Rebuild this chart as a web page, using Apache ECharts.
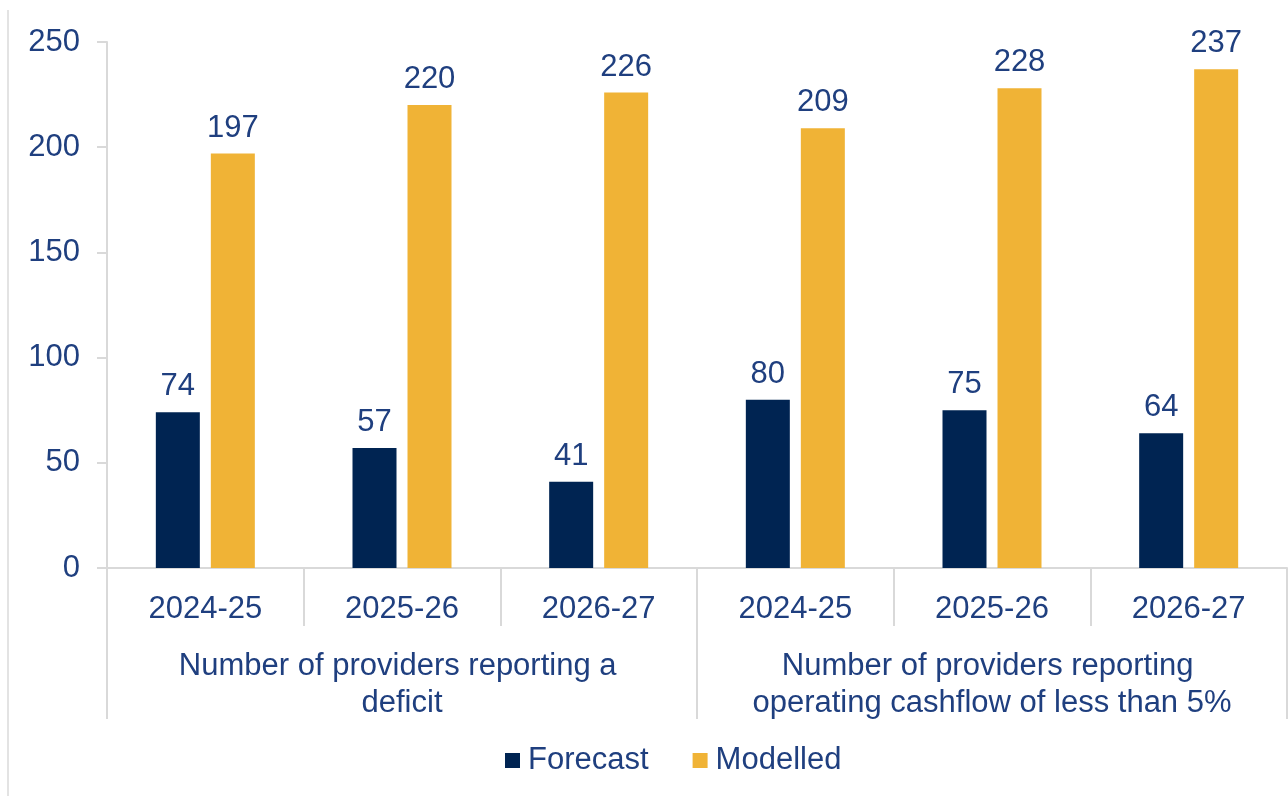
<!DOCTYPE html>
<html>
<head>
<meta charset="utf-8">
<script src="https://cdn.jsdelivr.net/npm/echarts@6/dist/echarts.min.js"></script>
<style>
html,body{margin:0;padding:0;background:#fff;}
#chart{width:1288px;height:796px;}
</style>
</head>
<body>
<div id="chart"></div>
<script>
var years = ['2024-25','2025-26','2026-27','2024-25','2025-26','2026-27'];
var groups = ['Number of providers reporting a deficit','Number of providers reporting operating cashflow of less than 5%'];
var forecast = [74, 57, 41, 80, 75, 64];
var modelled = [197, 220, 226, 209, 228, 237];
var yTicks = {min: 0, max: 250, interval: 50};

var textColor = '#1F3F7F';
var gridColor = '#D9D9D9';
var font = 'Liberation Sans, Arial, sans-serif';
var fs = 31;

var chart = echarts.init(document.getElementById('chart'));
chart.setOption({
  animation: false,
  textStyle: {fontFamily: font},
  grid: {left: 107, right: 1, top: 42, bottom: 228, containLabel: false},
  legend: {
    data: ['Forecast','Modelled'],
    bottom: 15, left: 500,
    icon: 'rect', itemWidth: 15, itemHeight: 15, itemGap: 44,
    textStyle: {color: textColor, fontSize: fs, fontFamily: font, padding: [0,0,0,3]}
  },
  xAxis: [
    {
      type: 'category', data: years, position: 'bottom', offset: 0,
      axisLine: {show: true, lineStyle: {color: gridColor, width: 2}},
      axisTick: {show: true, interval: 0, length: 58, lineStyle: {color: gridColor, width: 2}},
      axisLabel: {color: textColor, fontSize: fs, margin: 26, interval: 0, fontFamily: font}
    },
    {
      type: 'category', data: groups, position: 'bottom', offset: 0,
      axisLine: {show: false},
      axisTick: {show: true, interval: 0, length: 151, lineStyle: {color: gridColor, width: 2}},
      axisLabel: {color: textColor, fontSize: fs, margin: 80, interval: 0, lineHeight: 37,
        width: 500, overflow: 'break', fontFamily: font}
    }
  ],
  yAxis: {
    type: 'value', min: yTicks.min, max: yTicks.max, interval: yTicks.interval,
    axisLine: {show: true, lineStyle: {color: gridColor, width: 2}},
    axisTick: {show: true, length: 10, lineStyle: {color: gridColor, width: 2}},
    splitLine: {show: false},
    axisLabel: {color: textColor, fontSize: fs, margin: 27, fontFamily: font}
  },
  series: [
    {
      name: 'Forecast', type: 'bar', data: forecast, xAxisIndex: 0,
      barWidth: 44, barGap: '25%',
      itemStyle: {color: '#002452'},
      label: {show: true, position: 'top', distance: 10, color: textColor, fontSize: fs, fontFamily: font}
    },
    {
      name: 'Modelled', type: 'bar', data: modelled, xAxisIndex: 0,
      barWidth: 44, barGap: '25%',
      itemStyle: {color: '#F0B336'},
      label: {show: true, position: 'top', distance: 10, color: textColor, fontSize: fs, fontFamily: font}
    }
  ],
  graphic: [
    {type: 'line', shape: {x1: 8, y1: 10, x2: 8, y2: 796}, style: {stroke: '#E3E3E3', lineWidth: 2}}
  ]
});
</script>
</body>
</html>
